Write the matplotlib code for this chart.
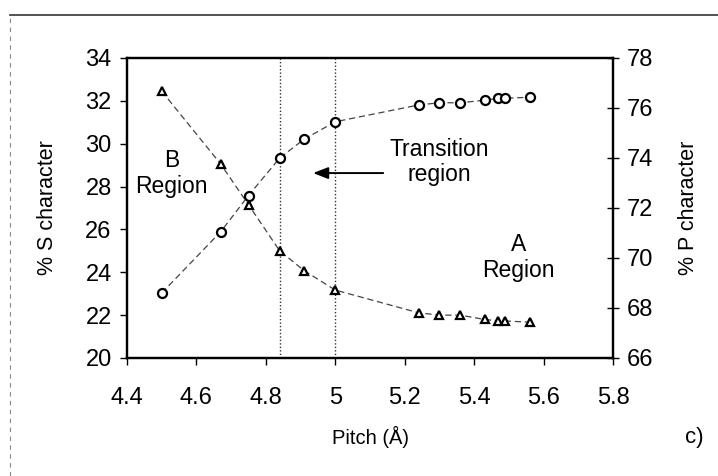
import matplotlib
matplotlib.use("Agg")
import matplotlib.pyplot as plt
from matplotlib.lines import Line2D

plt.rcParams['font.family'] = ['Liberation Sans', 'DejaVu Sans']

pitch = [4.50, 4.67, 4.75, 4.84, 4.91, 5.00, 5.24, 5.30, 5.36, 5.43, 5.47, 5.49, 5.56]
s_char = [32.45, 29.05, 27.15, 25.0, 24.08, 23.17, 22.11, 22.0, 22.0, 21.8, 21.73, 21.73, 21.67]
p_char = [68.6, 71.05, 72.5, 74.0, 74.75, 75.45, 76.12, 76.21, 76.21, 76.31, 76.39, 76.39, 76.43]
vlines_x = [4.84, 5.0]
xticks = [4.4, 4.6, 4.8, 5.0, 5.2, 5.4, 5.6, 5.8]
xticklabels = ['4.4', '4.6', '4.8', '5', '5.2', '5.4', '5.6', '5.8']
yticks_left = [20, 22, 24, 26, 28, 30, 32, 34]
yticks_right = [66, 68, 70, 72, 74, 76, 78]

fig = plt.figure(figsize=(7.18, 4.76), dpi=100)
ax = fig.add_axes([127/718, 1-358/476, (613-127)/718, 300/476])
ax2 = ax.twinx()

for a in (ax, ax2):
    for sp in a.spines.values():
        sp.set_linewidth(1.6)

ax.plot(pitch, s_char, color='#444444', lw=0.9, ls=(0, (5, 3)),
        marker='^', ms=5.5, mfc='white', mec='black', mew=1.6, zorder=3)
ax2.plot(pitch, p_char, color='#444444', lw=0.9, ls=(0, (5, 3)),
         marker='o', ms=6.5, mfc='white', mec='black', mew=1.6, zorder=3)

for xv in vlines_x:
    ax.axvline(xv, color='#333333', lw=1.0, ls=(0, (1, 1.5)), zorder=1)

ax.set_xlim(4.4, 5.8)
ax.set_ylim(20, 34)
ax2.set_ylim(66, 78)
ax.set_xticks(xticks)
ax.set_xticklabels(xticklabels)
ax.set_yticks(yticks_left)
ax2.set_yticks(yticks_right)

ax.tick_params(axis='y', direction='out', length=5, width=1.0, labelsize=17, pad=6)
ax.tick_params(axis='x', direction='out', length=5, width=1.0, labelsize=17, pad=16)
ax2.tick_params(axis='y', direction='inout', length=8, width=1.0, labelsize=17, pad=6)

ax.set_ylabel('% S character', fontsize=15.5, labelpad=20)
ax2.set_ylabel('% P character', fontsize=15.5, labelpad=18)
ax.set_xlabel('Pitch (Å)', fontsize=14.5, labelpad=12)

ax.text(4.529, 28.6, 'B\nRegion', ha='center', va='center', fontsize=16.5, linespacing=1.15)
ax.text(5.30, 29.15, 'Transition\nregion', ha='center', va='center', fontsize=16.5, linespacing=1.15)
ax.text(5.527, 24.7, 'A\nRegion', ha='center', va='center', fontsize=16.5, linespacing=1.15)

ax.annotate('', xy=(4.928, 28.63), xytext=(5.146, 28.63),
            arrowprops=dict(arrowstyle='-|>,head_length=0.9,head_width=0.35',
                            color='black', lw=1.4))

fig.text(694/718, 1-437/476, 'c)', fontsize=16, ha='center', va='center')
fig.add_artist(Line2D([10/718, 1.0], [1-15/476, 1-15/476], color='#333333', lw=1.2))
fig.add_artist(Line2D([10/718, 10/718], [0.0, 1-15/476], color='#888888', lw=0.8, ls=(0, (4, 4))))

fig.savefig('out.png', dpi=100)
